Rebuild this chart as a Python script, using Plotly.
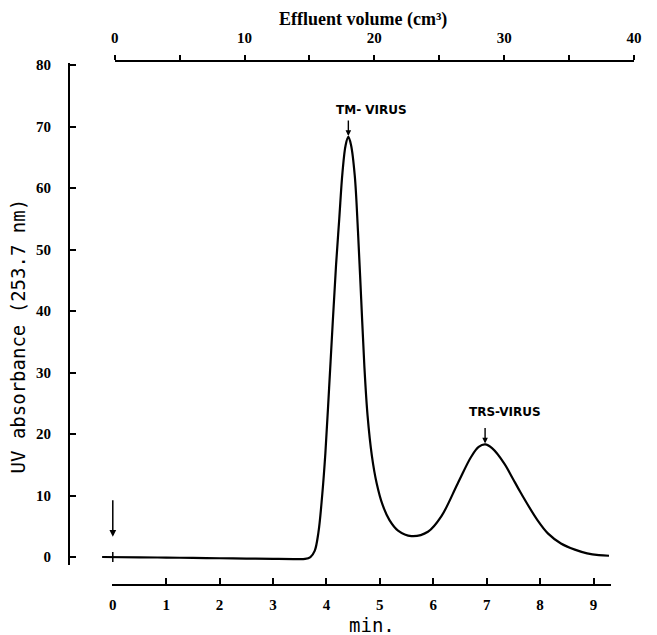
import plotly.graph_objects as go

# ---- data ----
time_min = [-0.2, 0.5, 1.0, 1.5, 2.0, 2.5, 3.0, 3.4, 3.6, 3.7, 3.78, 3.85, 3.92, 3.98,
            4.05, 4.12, 4.18, 4.24, 4.30, 4.36, 4.41, 4.46, 4.53, 4.59, 4.65, 4.71, 4.77,
            4.85, 4.94, 5.05, 5.18, 5.34, 5.59, 5.90, 6.15, 6.46, 6.71, 6.85, 6.97, 7.10,
            7.33, 7.48, 7.64, 7.95, 8.15, 8.39, 8.65, 8.88, 9.10, 9.29]
uv_abs = [0.0, -0.05, -0.1, -0.15, -0.2, -0.25, -0.3, -0.33, -0.3, 0.0, 1.0, 4.0, 10.0, 16.9,
          27.5, 38.5, 47.5, 55.0, 62.5, 67.0, 68.3, 67.0, 62.0, 53.0, 42.0, 31.0, 23.0,
          16.5, 12.0, 8.5, 6.0, 4.3, 3.4, 4.1, 6.6, 12.0, 16.3, 17.9, 18.3, 17.7,
          15.2, 12.9, 10.4, 6.0, 3.8, 2.2, 1.2, 0.6, 0.3, 0.2]

peak_names = ["TM- VIRUS", "TRS-VIRUS"]
peak_time = [4.41, 6.97]
peak_uv = [68.3, 18.3]

min_ticks = [0, 1, 2, 3, 4, 5, 6, 7, 8, 9]
vol_ticks = [0, 10, 20, 30, 40]
uv_ticks = [0, 10, 20, 30, 40, 50, 60, 70, 80]
injection_time = 0

serif = "Liberation Serif"
mono = "DejaVu Sans Mono"

fig = go.Figure()
fig.add_trace(go.Scatter(x=time_min, y=uv_abs, mode="lines",
                         line=dict(color="black", width=2.2, shape="spline", smoothing=1.0),
                         hoverinfo="skip", showlegend=False, xaxis="x", yaxis="y"))
# carriers for the extra axes
fig.add_trace(go.Scatter(x=vol_ticks, y=[None] * len(vol_ticks), mode="lines",
                         hoverinfo="skip", showlegend=False, xaxis="x2", yaxis="y"))
fig.add_trace(go.Scatter(x=min_ticks, y=[None] * len(min_ticks), mode="lines",
                         hoverinfo="skip", showlegend=False, xaxis="x3", yaxis="y"))

tickfont = dict(family=serif, size=15, color="black", weight="bold")

fig.update_layout(
    width=649, height=627,
    margin=dict(l=62, r=17, t=52, b=50),
    paper_bgcolor="white", plot_bgcolor="rgba(0,0,0,0)",
    xaxis=dict(domain=[0, 1], range=[-0.801, 9.814], visible=False, anchor="y"),
    xaxis2=dict(domain=[0.0789, 0.9947], range=[0, 40], side="top", anchor="free",
                position=0.999, showline=True, linecolor="black", linewidth=2,
                showgrid=False, zeroline=False, ticks="outside", ticklen=5, tickwidth=1.5,
                tickcolor="black", tickvals=vol_ticks, tickfont=tickfont,
                ticklabelstandoff=6,
                minor=dict(dtick=5, ticks="outside", ticklen=5, tickwidth=1.5,
                           tickcolor="black", showgrid=False)),
    xaxis3=dict(domain=[0.0737, 0.9544], range=[-0.0186, 9.33], anchor="free",
                position=0, showline=True, linecolor="black", linewidth=2,
                showgrid=False, zeroline=False, ticks="inside", ticklen=6, tickwidth=1.5,
                tickcolor="black", tickvals=min_ticks, tickfont=tickfont,
                ticklabelstandoff=6),
    yaxis=dict(domain=[0.0381, 0.9943], range=[-1.30, 80.33], anchor="x",
               showline=True, linecolor="black", linewidth=2, showgrid=False,
               zeroline=False, ticks="inside", ticklen=6, tickwidth=1.5, tickcolor="black",
               tickvals=uv_ticks, tickfont=tickfont, ticklabelstandoff=14),
    showlegend=False,
)

annotations = [
    dict(text="Effluent volume (cm³)", xref="paper", yref="paper", x=0.5175, y=1.078,
         showarrow=False, font=dict(family=serif, size=18, color="black", weight="bold"),
         xanchor="center", yanchor="middle"),
    dict(text="min.", xref="paper", yref="paper", x=0.5333, y=-0.0762,
         showarrow=False, font=dict(family=mono, size=19, color="black"),
         xanchor="center", yanchor="middle"),
    dict(text="UV absorbance (253.7 nm)", xref="paper", yref="paper", x=-0.0912, y=0.474,
         showarrow=False, textangle=-90, font=dict(family=mono, size=19, color="black"),
         xanchor="center", yanchor="middle"),
    # injection arrow
    dict(text="", x=injection_time, y=3.3, xref="x", yref="y", showarrow=True,
         ax=0, ay=-38, arrowhead=2, arrowsize=0.9, arrowwidth=1.5, arrowcolor="black"),
]
shifts = [(23, 27), (20, 32)]
for name, t, v, (dx, dy) in zip(peak_names, peak_time, peak_uv, shifts):
    annotations.append(dict(text=name, x=t, y=v, xref="x", yref="y", showarrow=False,
                            xshift=dx, yshift=dy,
                            font=dict(family="DejaVu Sans", size=12, color="black",
                                      weight="bold")))
    annotations.append(dict(text="", x=t, y=v, xref="x", yref="y", showarrow=True,
                            ax=0, ay=-18, arrowhead=2, arrowsize=0.8, arrowwidth=1.4,
                            arrowcolor="black", standoff=1))
fig.update_layout(annotations=annotations)

fig.add_shape(type="line", xref="x", yref="y", x0=injection_time, x1=injection_time,
              ysizemode="pixel", yanchor=0, y0=-5, y1=5,
              line=dict(color="black", width=1.5))

fig.write_html("out.html")
